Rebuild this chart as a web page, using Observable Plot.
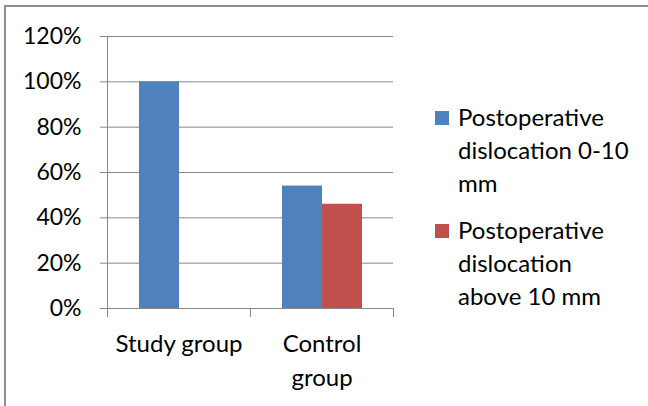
<!DOCTYPE html>
<html>
<head>
<meta charset="utf-8">
<script src="https://cdn.jsdelivr.net/npm/d3@7"></script>
<script src="https://cdn.jsdelivr.net/npm/@observablehq/plot@0.6"></script>
<style>
  body { margin: 0; background: #fff; }
  #chart { position: relative; width: 648px; height: 406px; overflow: hidden; font-family: Lato, "Noto Sans", sans-serif; }
  #chart svg { position: absolute; left: 0; top: 0; }
  #chart .border { position: absolute; left: 4px; top: 5px; right: -4px; bottom: -4px; border-left: 2px solid #8e8e8e; border-top: 2px solid #8e8e8e; pointer-events: none; }
  .legend { position: absolute; left: 435px; top: 100px; font-size: 24px; line-height: 33px; color: #000; }
  .legend .item { position: relative; padding-left: 23px; width: 176px; margin-bottom: 14px; }
  .legend .swatch { position: absolute; left: 0; top: 11px; width: 14px; height: 14px; }
</style>
</head>
<body>
<div id="chart"></div>
<script>
// Share of patients by postoperative dislocation, per group
const groups = ["Study group", "Control group"];
const groupLabels = ["Study group", "Control\ngroup"];
const series = ["Postoperative dislocation 0-10 mm", "Postoperative dislocation above 10 mm"];
const share0to10 = [1.00, 0.54];
const shareAbove10 = [0.00, 0.46];
const yTicks = [0, 0.2, 0.4, 0.6, 0.8, 1.0, 1.2];
const colors = ["#4F81BD", "#C0504D"];

const rows = groups.flatMap((g, i) => [
  {group: g, series: series[0], value: share0to10[i]},
  {group: g, series: series[1], value: shareAbove10[i]}
]);

const W = 648, H = 406;
const margin = {left: 107, right: 255, top: 36, bottom: 98};
const plotH = H - margin.top - margin.bottom;
const axisGray = "#868686";

const chart = Plot.plot({
  width: W,
  height: H,
  marginLeft: margin.left,
  marginRight: margin.right,
  marginTop: margin.top,
  marginBottom: margin.bottom,
  style: {fontFamily: "Lato, 'Noto Sans', sans-serif", fontSize: "24px", color: "#000", background: "#fff"},
  fx: {domain: groups, padding: 0, label: null, axis: null},
  x: {domain: series, paddingInner: 0, paddingOuter: 0.744, axis: null},
  y: {domain: [0, 1.2], axis: null},
  color: {domain: series, range: colors},
  marks: [
    Plot.gridY(yTicks, {stroke: axisGray, strokeOpacity: 1}),
    Plot.barY(rows, {fx: "group", x: "series", y: "value", fill: "series"}),
    // vertical axis line, running into the first category tick
    Plot.frame({anchor: "left", facetAnchor: "left", stroke: axisGray, insetBottom: -8}),
    // category boundary ticks below the horizontal axis
    Plot.frame({anchor: "left", stroke: axisGray, insetTop: plotH, insetBottom: -8}),
    Plot.frame({anchor: "right", facetAnchor: "right", stroke: axisGray, insetTop: plotH, insetBottom: -8}),
    Plot.axisY(yTicks, {
      label: null,
      tickFormat: d3.format(".0%"),
      tickSize: 7,
      tickPadding: 19,
      stroke: axisGray,
      fill: "#000",
      fontSize: 23
    }),
    Plot.axisFx({
      anchor: "bottom",
      tickSize: 0,
      tickPadding: 19,
      lineHeight: 1.42,
      label: null,
      fill: "#000",
      tickFormat: (d) => groupLabels[groups.indexOf(d)]
    })
  ]
});

const root = document.getElementById("chart");
root.appendChild(chart);

// legend on the right
const legend = document.createElement("div");
legend.className = "legend";
series.forEach((name, i) => {
  const item = document.createElement("div");
  item.className = "item";
  const sw = document.createElement("span");
  sw.className = "swatch";
  sw.style.background = colors[i];
  item.appendChild(sw);
  item.appendChild(document.createTextNode(name));
  legend.appendChild(item);
});
root.appendChild(legend);

const border = document.createElement("div");
border.className = "border";
root.appendChild(border);
</script>
</body>
</html>
